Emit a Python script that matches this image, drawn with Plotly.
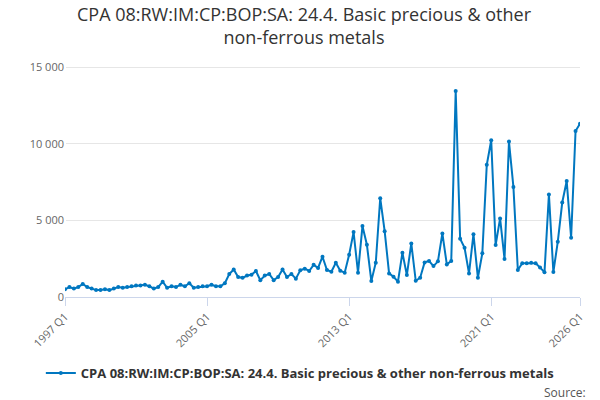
import plotly.graph_objects as go

start_year = 1997
values = [500,650,550,650,850,650,550,450,450,500,450,550,650,600,650,700,
          750,750,800,700,550,650,1000,600,700,650,800,700,900,600,650,700,
          700,800,700,700,900,1500,1800,1300,1250,1400,1450,1700,1100,1400,1500,1100,
          1300,1800,1300,1500,1200,1750,1850,1700,2100,
          1900,2630,1760,1650,2240,1720,1590,2760,4240,1590,
          4630,3410,1040,2240,6450,4300,1540,1320,1000,2890,
          1430,3500,1060,1260,2260,2350,2020,2330,4150,2130,
          2350,13450,3800,3210,1540,4100,1260,2850,8630,10240,
          3390,5130,2480,10150,7190,1760,2200,2200,2240,2200,
          1930,1610,6700,1630,3610,6170,7580,3870,10840,11320]
quarters = [f"{start_year + i//4} Q{i%4+1}" for i in range(len(values))]
tick_labels = ["1997 Q1", "2005 Q1", "2013 Q1", "2021 Q1", "2026 Q1"]
tick_pos = [quarters.index(t) for t in tick_labels]
name = "CPA 08:RW:IM:CP:BOP:SA: 24.4. Basic precious & other non-ferrous metals"

fig = go.Figure(go.Scatter(x=list(range(len(values))), y=values, mode="lines+markers", name=name,
                           text=quarters, hovertemplate="%{text}: %{y}",
                           line=dict(color="#0077c0", width=2), marker=dict(size=4, color="#0077c0")))
fig.update_layout(
    width=592, height=392, autosize=False, plot_bgcolor="white", paper_bgcolor="white",
    font=dict(family="Open Sans", color="#333"),
    title=dict(text="CPA 08:RW:IM:CP:BOP:SA: 24.4. Basic precious & other<br>non-ferrous metals",
               x=0.5, xanchor="center", y=0.968, yanchor="top", font=dict(size=18, color="#333")),
    margin=dict(l=57, r=20, t=44, b=103, autoexpand=False),
    showlegend=True,
    legend=dict(orientation="h", x=0.456, xanchor="center", y=-0.31, yanchor="middle",
                font=dict(size=13, color="#333", weight="bold")),
    annotations=[dict(text="Source:", x=1.016, xref="paper", y=-0.39, yref="paper", showarrow=False,
                      xanchor="right", yanchor="middle", font=dict(size=12, color="#555"))],
)
fig.update_xaxes(range=[0, len(values)-1], tickvals=tick_pos, ticktext=tick_labels, tickangle=-45,
                 showgrid=False, showline=True, linecolor="#ccd6eb", ticks="outside",
                 tickcolor="#ccd6eb", ticklen=8, tickfont=dict(size=11, color="#666"), automargin=False)
fig.update_yaxes(range=[0, 16000], tickvals=[0,5000,10000,15000], ticktext=["0","5 000","10 000","15 000"],
                 gridcolor="#e6e6e6", zeroline=False, tickfont=dict(size=11, color="#666"), automargin=False)
fig.write_html("out.html", config={"responsive": False})
